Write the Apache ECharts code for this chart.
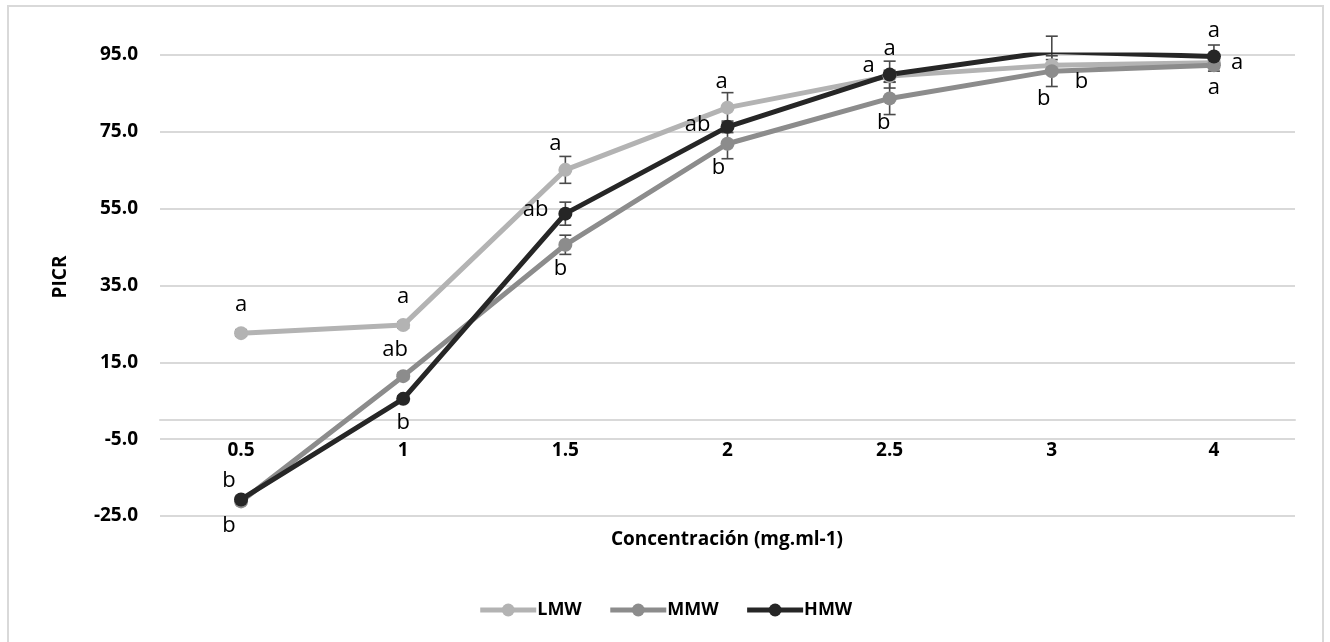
<!DOCTYPE html>
<html>
<head>
<meta charset="utf-8">
<script src="https://cdn.jsdelivr.net/npm/echarts@6/dist/echarts.min.js"></script>
<style>
  html, body { margin: 0; padding: 0; background: #fff; }
  #chart { width: 1330px; height: 642px; }
</style>
</head>
<body>
<div id="chart"></div>
<script>
// Concentrations (mg/ml) on the category axis
const categories = ['0.5', '1', '1.5', '2', '2.5', '3', '4'];

// Mean PICR per molecular-weight fraction
const lmw = [22.6, 24.7, 65.1, 81.3, 89.5, 92.3, 93.0];
const mmw = [-21.2, 11.4, 45.6, 71.9, 83.7, 90.8, 92.3];
const hmw = [-20.7, 5.5, 53.7, 76.3, 89.9, 95.9, 94.6];

// Standard deviations (± error)
const lmwErr = [0.8, 0.8, 3.5, 3.9, 1.5, 1.5, 1.5];
const mmwErr = [0.8, 0.8, 2.5, 3.9, 4.2, 4.0, 1.5];
const hmwErr = [0.8, 0.8, 3.0, 1.5, 3.5, 4.0, 3.0];

// Significance letters
const lmwSig = ['a', 'a', 'a', 'a', 'a', 'b', 'a'];
const mmwSig = ['b', 'ab', 'b', 'b', 'b', 'b', 'a'];
const hmwSig = ['b', 'b', 'ab', 'ab', 'a', 'a', 'a'];

// Where each letter sits relative to its point: [position, dx, dy]
const lmwSigPlace = [['top', 0, -4], ['top', 0, -4], ['top', -10, -2], ['top', -6, -2], ['left', -2, -10], ['right', 10, 16], ['right', 4, 0]];
const mmwSigPlace = [['bottom', -12, 0], ['top', -8, -2], ['bottom', -5, 0], ['bottom', -9, 0], ['bottom', -6, 0], ['bottom', -8, 4], ['bottom', 0, -2]];
const hmwSigPlace = [['top', -12, 5], ['bottom', 0, 0], ['left', -4, -4], ['left', -4, -2], ['top', 0, -2], ['top', -16, -2], ['top', 0, -2]];

const FONT = '"Open Sans", "DejaVu Sans", sans-serif';
const colors = { LMW: '#b3b3b3', MMW: '#8c8c8c', HMW: '#262626' };

function lineSeries(name, values, sig, place) {
  return {
    name: name,
    type: 'line',
    data: values.map((v, i) => ({
      value: v,
      label: {
        show: true,
        formatter: sig[i],
        position: place[i][0],
        offset: [place[i][1], place[i][2]],
        distance: 6,
        color: '#000',
        fontSize: 22,
        fontFamily: FONT
      }
    })),
    symbol: 'circle',
    symbolSize: 14,
    lineStyle: { width: 5, color: colors[name] },
    itemStyle: { color: colors[name] },
    emphasis: { disabled: true },
    z: 3
  };
}

function errorSeries(values, errs) {
  return {
    type: 'custom',
    data: values.map((v, i) => [i, v - errs[i], v + errs[i]]),
    renderItem: function (params, api) {
      const lo = api.coord([api.value(0), api.value(1)]);
      const hi = api.coord([api.value(0), api.value(2)]);
      const half = 6;
      const st = { stroke: '#4a4a4a', lineWidth: 1.6 };
      return {
        type: 'group',
        children: [
          { type: 'line', shape: { x1: lo[0], y1: lo[1], x2: hi[0], y2: hi[1] }, style: st },
          { type: 'line', shape: { x1: lo[0] - half, y1: lo[1], x2: lo[0] + half, y2: lo[1] }, style: st },
          { type: 'line', shape: { x1: hi[0] - half, y1: hi[1], x2: hi[0] + half, y2: hi[1] }, style: st }
        ]
      };
    },
    silent: true,
    z: 2
  };
}

const chart = echarts.init(document.getElementById('chart'), null, { renderer: 'canvas' });

chart.setOption({
  backgroundColor: '#ffffff',
  animation: false,
  textStyle: { fontFamily: FONT },
  grid: { left: 160, right: 35, top: 55, bottom: 126 },
  graphic: [
    {
      type: 'rect',
      shape: { x: 8, y: 6, width: 1315, height: 640 },
      style: { fill: 'none', stroke: '#d9d9d9', lineWidth: 2 },
      silent: true
    },
    {
      type: 'text',
      x: 727, y: 540,
      style: {
        text: 'Concentración (mg.ml-1)',
        align: 'center', verticalAlign: 'middle',
        font: 'bold 19px ' + FONT, fill: '#000'
      }
    },
    {
      type: 'text',
      x: 61, y: 277,
      rotation: Math.PI / 2,
      style: {
        text: 'PICR',
        align: 'center', verticalAlign: 'middle',
        font: 'bold 19px ' + FONT, fill: '#000'
      }
    }
  ],
  legend: {
    data: ['LMW', 'MMW', 'HMW'],
    top: 596,
    left: 'center',
    itemWidth: 56,
    itemHeight: 16,
    itemGap: 26,
    lineStyle: { width: 5 },
    textStyle: { fontSize: 18, fontWeight: 'bold', color: '#000', fontFamily: FONT, padding: [0, 0, 0, -4] }
  },
  xAxis: {
    type: 'category',
    data: categories,
    boundaryGap: true,
    axisLine: { show: true, onZero: true, lineStyle: { color: '#d9d9d9', width: 2 } },
    axisTick: { show: false },
    axisLabel: { margin: -75, fontSize: 19, fontWeight: 'bold', color: '#000', fontFamily: FONT },
    splitLine: { show: false }
  },
  yAxis: {
    type: 'value',
    min: -25,
    max: 95,
    interval: 20,
    axisLine: { show: false },
    axisTick: { show: false },
    axisLabel: {
      margin: 22,
      fontSize: 19,
      fontWeight: 'bold',
      color: '#000',
      fontFamily: FONT,
      formatter: v => v.toFixed(1)
    },
    splitLine: { show: true, lineStyle: { color: '#d9d9d9', width: 2 } }
  },
  series: [
    errorSeries(lmw, lmwErr),
    errorSeries(mmw, mmwErr),
    errorSeries(hmw, hmwErr),
    lineSeries('LMW', lmw, lmwSig, lmwSigPlace),
    lineSeries('MMW', mmw, mmwSig, mmwSigPlace),
    lineSeries('HMW', hmw, hmwSig, hmwSigPlace)
  ]
});
</script>
</body>
</html>
